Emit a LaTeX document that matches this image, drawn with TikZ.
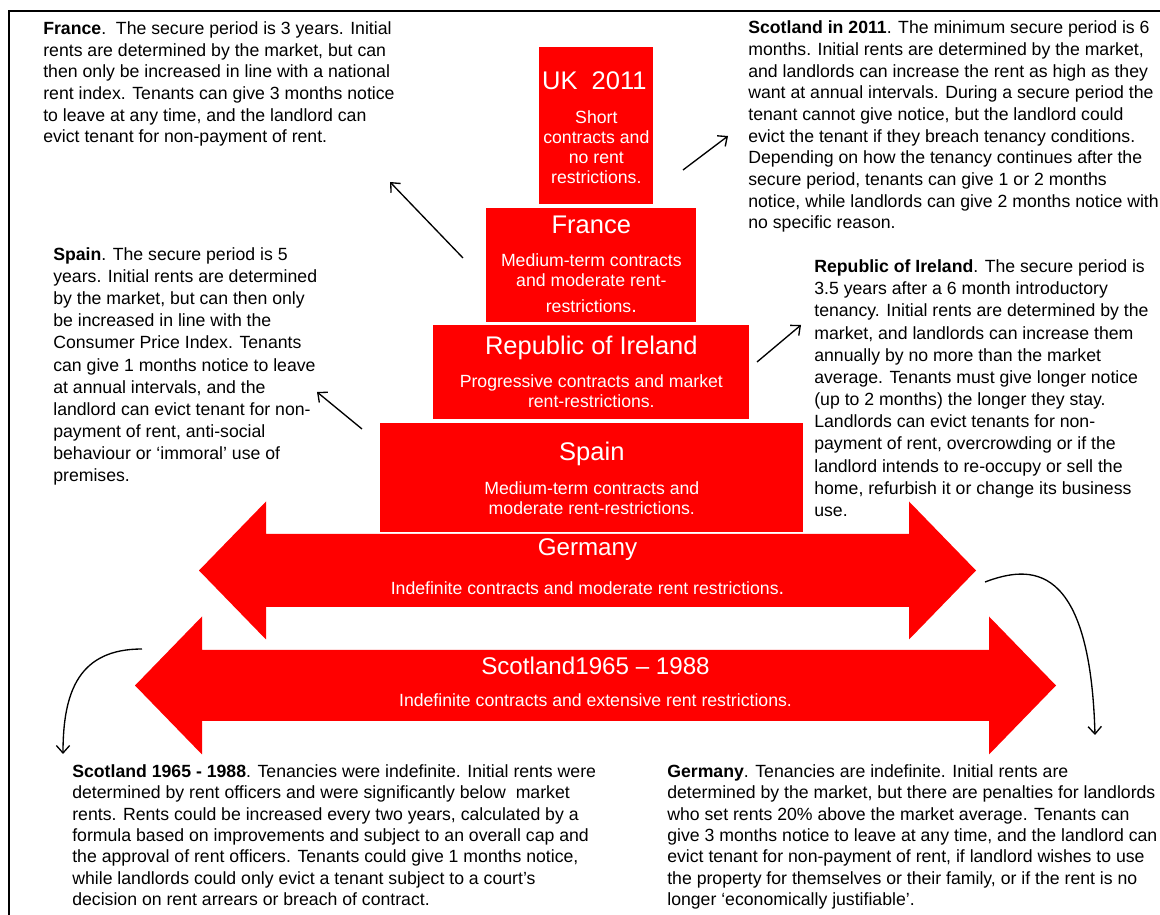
\documentclass[tikz,border=0pt]{standalone}
\usepackage{fontspec}
\setmainfont{Liberation Sans}
\usepackage{tikz}
\usetikzlibrary{arrows.meta,calc}
\tikzstyle{tier}=[fill=red, draw=none, inner sep=0pt, anchor=north west]
\tikzstyle{tiertitle}=[text=white, anchor=base, inner sep=0pt,
  font=\fontsize{15.3}{18}\selectfont]
\tikzstyle{tiersub}=[text=white, anchor=base, align=center, inner sep=0pt,
  font=\fontsize{10.6}{12}\selectfont]
% multi-line texts sit on the baseline of their last line
\tikzstyle{desc}=[anchor=base west, align=left, inner sep=0pt,
  font=\fontsize{10.6}{13.3}\selectfont]
\tikzstyle{line}=[draw, line width=0.8pt, -{Straight Barb[length=4.5pt,width=8pt]}]
\newcommand{\tier}[5]{node (#1)[tier, minimum width=#4*0.6pt, minimum height=#5*0.6pt] at (#2,#3) {}}
% two headed band: centre x, centre y, half length, head length, half shaft, half head
\newcommand{\twoway}[6]{%
  \fill[red] ({#1-#3},#2) -- ++(#4,-#6) -- ++(0,{#6-#5}) -- ({#1+#3-#4},{#2-#5})
    -- ++(0,{#5-#6}) -- ({#1+#3},#2) -- ++(-#4,#6) -- ++(0,{#5-#6})
    -- ({#1-#3+#4},{#2+#5}) -- ++(0,{#6-#5}) -- cycle;}
\begin{document}
\begin{tikzpicture}[x=0.6pt,y=-0.6pt]
  \useasboundingbox (0,0) rectangle (1160,915);
  \draw[line width=1.2pt] (1160,11) -- (9,11) -- (9,915);

  % pyramid
  \path \tier{uk}{539}{47}{114}{157};
  \path \tier{fr}{486}{208}{210}{114};
  \path \tier{ire}{433}{325}{316}{94};
  \path \tier{sp}{380}{423}{423}{109};

  \path (uk.north)+(-2,43) node (uk-t)[tiertitle] {UK\ \ 2011};
  \path (uk.north)+(0,137) node (uk-s)[tiersub] {Short\\contracts and\\no rent\\restrictions.};
  \path (fr.north)+(0,26) node (fr-t)[tiertitle] {France};
  \path (fr.north)+(0,105) node (fr-s)[tiersub] {Medium-term contracts\\and moderate rent-\\[3.6pt]restrictions{\large.}};
  \path (ire.north)+(0,30) node (ire-t)[tiertitle] {Republic of Ireland};
  \path (ire.north)+(0,83) node (ire-s)[tiersub] {Progressive contracts and market\\rent-restrictions.};
  \path (sp.north)+(0,38) node (sp-t)[tiertitle] {Spain};
  \path (sp.north)+(0,92) node (sp-s)[tiersub] {Medium-term contracts and\\moderate rent-restrictions.};

  % bands
  \twoway{587.5}{570.5}{388.5}{67}{36.5}{69}
  \twoway{595.5}{685.5}{460.5}{67}{35.5}{69}
  \node (ger-t)[tiertitle, font=\fontsize{14.5}{17}\selectfont] at (587.5,556) {Germany};
  \node (ger-s)[tiersub] at (587.5,595) {Indefinite contracts and moderate rent restrictions{\large.}};
  \node (sco-t)[tiertitle, font=\fontsize{14.5}{17}\selectfont] at (595.5,675) {Scotland1965 – 1988};
  \node (sco-s)[tiersub] at (595.5,706.5) {Indefinite contracts and extensive rent restrictions.};

  % texts
  \node (fr-d)[desc, font=\fontsize{10.6}{13}\selectfont] at (43,143) {\textbf{France}.\ \ The secure period is 3 years. Initial\\rents are determined by the market, but can\\then only be increased in line with a national\\rent index. Tenants can give 3 months notice\\to leave at any time, and the landlord can\\evict tenant for non-payment of rent.};
  \node (uk-d)[desc, font=\fontsize{10.6}{13}\selectfont] at (748,229) {\textbf{Scotland in 2011}. The minimum secure period is 6\\months. Initial rents are determined by the market,\\and landlords can increase the rent as high as they\\want at annual intervals. During a secure period the\\tenant cannot give notice, but the landlord could\\evict the tenant if they breach tenancy conditions.\\Depending on how the tenancy continues after the\\secure period, tenants can give 1 or 2 months\\notice, while landlords can give 2 months notice with\\no specific reason.};
  \node (sp-d)[desc] at (53,482) {\textbf{Spain}. The secure period is 5\\years. Initial rents are determined\\by the market, but can then only\\be increased in line with the\\Consumer Price Index. Tenants\\can give 1 months notice to leave\\at annual intervals, and the\\landlord can evict tenant for non-\\payment of rent, anti-social\\behaviour or ‘immoral’ use of\\premises.};
  \node (ire-d)[desc] at (814,516.5) {\textbf{Republic of Ireland}. The secure period is\\3.5 years after a 6 month introductory\\tenancy. Initial rents are determined by the\\market, and landlords can increase them\\annually by no more than the market\\average. Tenants must give longer notice\\(up to 2 months) the longer they stay.\\Landlords can evict tenants for non-\\payment of rent, overcrowding or if the\\landlord intends to re-occupy or sell the\\home, refurbish it or change its business\\use.};
  \node (sco-d)[desc, font=\fontsize{10.6}{12.9}\selectfont] at (72,906) {\textbf{Scotland 1965 - 1988}. Tenancies were indefinite. Initial rents were\\determined by rent officers and were significantly below\ \ market\\rents. Rents could be increased every two years, calculated by a\\formula based on improvements and subject to an overall cap and\\the approval of rent officers. Tenants could give 1 months notice,\\while landlords could only evict a tenant subject to a court’s\\decision on rent arrears or breach of contract.};
  \node (ger-d)[desc, font=\fontsize{10.6}{12.9}\selectfont] at (667,906) {\textbf{Germany}. Tenancies are indefinite. Initial rents are\\determined by the market, but there are penalties for landlords\\who set rents 20\% above the market average. Tenants can\\give 3 months notice to leave at any time, and the landlord can\\evict tenant for non-payment of rent, if landlord wishes to use\\the property for themselves or their family, or if the rent is no\\longer ‘economically justifiable’.};

  % arrows
  \coordinate (fr-a) at (463,258);  \coordinate (fr-b) at (390,182);
  \coordinate (uk-a) at (683,170);  \coordinate (uk-b) at (728,136);
  \coordinate (sp-a) at (362,429);  \coordinate (sp-b) at (317,392);
  \coordinate (ire-a) at (757,362); \coordinate (ire-b) at (801,325);
  \coordinate (sco-a) at (142,649); \coordinate (sco-b) at (63,754);
  \coordinate (ger-a) at (985,582); \coordinate (ger-b) at (1095,735);
  \path [line] (fr-a) -- (fr-b);
  \path [line] (uk-a) -- (uk-b);
  \path [line] (sp-a) -- (sp-b);
  \path [line] (ire-a) -- (ire-b);
  \path [line] (sco-a) .. controls (80,649) and (63,690) .. (sco-b);
  \path [line] (ger-a) .. controls (1030,565) and (1090,560) .. (ger-b);
\end{tikzpicture}
\end{document}
